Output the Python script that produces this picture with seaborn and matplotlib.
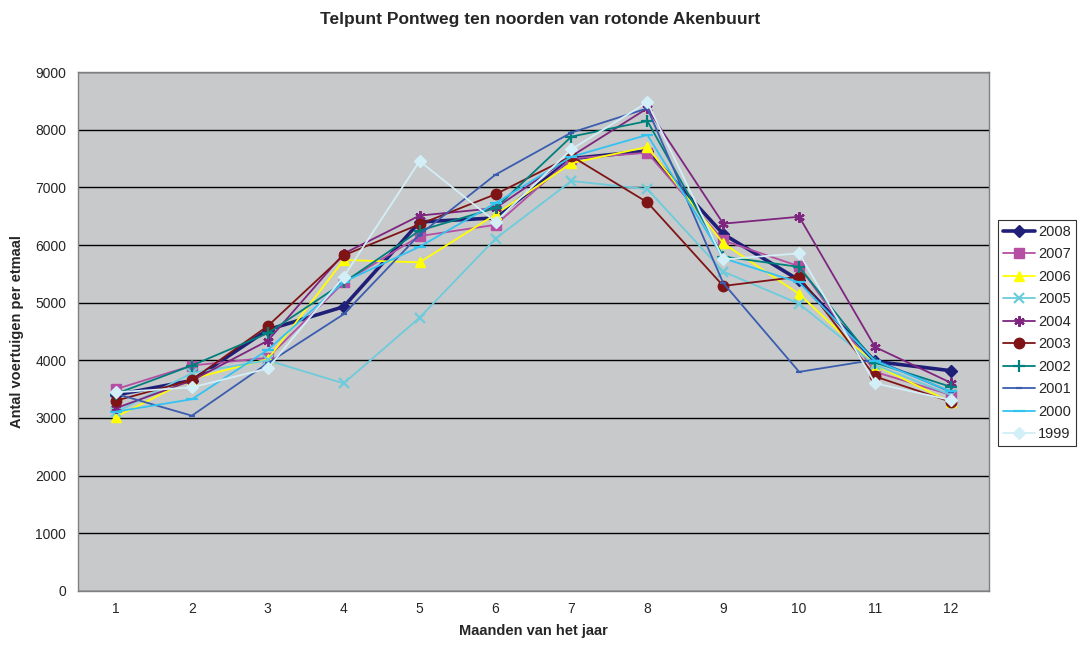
import matplotlib
matplotlib.use("Agg")
import matplotlib.pyplot as plt
import seaborn as sns
import pandas as pd

months = list(range(1, 13))
years = ["2008", "2007", "2006", "2005", "2004", "2003", "2002", "2001", "2000", "1999"]

v2008 = [3400, 3650, 4530, 4930, 6400, 6470, 7500, 7630, 6190, 5390, 3980, 3820]
v2007 = [3500, 3910, 4045, 5350, 6155, 6350, 7500, 7600, 6080, 5630, 3800, 3400]
v2006 = [3020, 3680, 4020, 5740, 5700, 6530, 7420, 7700, 6030, 5150, 3920, 3270]
v2005 = [3100, 3780, 4000, 3600, 4740, 6110, 7110, 6970, 5540, 4980, 3920, 3400]
v2004 = [3170, 3650, 4340, 5850, 6510, 6640, 7540, 8370, 6370, 6490, 4230, 3610]
v2003 = [3300, 3660, 4595, 5820, 6360, 6880, 7540, 6740, 5290, 5450, 3720, 3280]
v2002 = [3420, 3910, 4470, 5350, 6250, 6640, 7880, 8150, 5800, 5620, 3960, 3540]
v2001 = [3420, 3040, 3950, 4800, 6180, 7220, 7950, 8370, 5340, 3800, 4010, 3450]
v2000 = [3110, 3325, 4180, 5360, 5970, 6725, 7530, 7910, 5770, 5350, 3990, 3460]
v1999 = [3445, 3530, 3860, 5450, 7455, 6405, 7660, 8475, 5750, 5855, 3600, 3310]

values = [v2008, v2007, v2006, v2005, v2004, v2003, v2002, v2001, v2000, v1999]
colors = ["#1F1F78", "#B44FA4", "#FFFF00", "#6CCCDC", "#7E2580", "#7F1416",
          "#00807C", "#3A5DB0", "#33C3F0", "#D2EEF6"]
markers = ["D", "s", "^", "x", (6, 2, 0), "o", "+", "_", "_", "D"]
msizes = [6.5, 6.5, 7.5, 6.5, 7.5, 7.5, 8.5, 5, 8, 6.5]
lwidths = [2.6, 1.3, 1.3, 1.3, 1.3, 1.3, 1.3, 1.3, 1.3, 1.3]

df = pd.DataFrame({
    "maand": months * len(years),
    "jaar": [y for y in years for _ in months],
    "waarde": [v for vals in values for v in vals],
})

sns.set_style("white")
plt.rcParams["font.family"] = ["Liberation Sans", "DejaVu Sans"]

fig = plt.figure(figsize=(10.8, 6.5), dpi=100)
ax = fig.add_axes([0.0722, 0.0908, 0.8435, 0.7984])
ax.set_facecolor("#C8C9CB")

for yr, c, m, ms, lw in zip(years, colors, markers, msizes, lwidths):
    sub = df[df["jaar"] == yr]
    mew = 1.6 if m in ("x", "+", "_") or isinstance(m, tuple) else 1.0
    sns.lineplot(data=sub, x="maand", y="waarde", ax=ax, color=c, linewidth=lw,
                 marker=m, markersize=ms, markeredgecolor=c, markerfacecolor=c,
                 markeredgewidth=mew, label=yr, zorder=3)

ax.set_xlim(0.5, 12.5)
ax.set_ylim(0, 9000)
ax.set_yticks(range(0, 9001, 1000))
ax.set_xticks(months)
ax.set_xticks([m + 0.5 for m in range(0, 13)], minor=True)
ax.tick_params(axis="x", which="major", length=0, labelsize=10, pad=8)
ax.tick_params(axis="x", which="minor", length=5, direction="out", color="#404040")
ax.tick_params(axis="y", which="major", length=5, direction="out", color="#404040", labelsize=10)
ax.grid(axis="y", color="#000000", linewidth=1.0)
ax.set_axisbelow(True)
for s in ax.spines.values():
    s.set_color("#808080")
    s.set_linewidth(1.0)

ax.set_xlabel("Maanden van het jaar", fontsize=10.5, fontweight="bold", labelpad=6)
ax.set_ylabel("Antal voertuigen per etmaal", fontsize=10.5, fontweight="bold", labelpad=8)
fig.suptitle("Telpunt Pontweg ten noorden van rotonde Akenbuurt", fontsize=12.5,
             fontweight="bold", y=0.982)

leg = ax.legend(loc="upper left", bbox_to_anchor=(1.01, 0.715), frameon=True,
                fancybox=False, edgecolor="#000000", fontsize=10.5,
                handlelength=2.2, handletextpad=0.2, labelspacing=0.58,
                borderpad=0.35, borderaxespad=0)
leg.get_frame().set_linewidth(0.8)

fig.savefig("out.png", dpi=100)
